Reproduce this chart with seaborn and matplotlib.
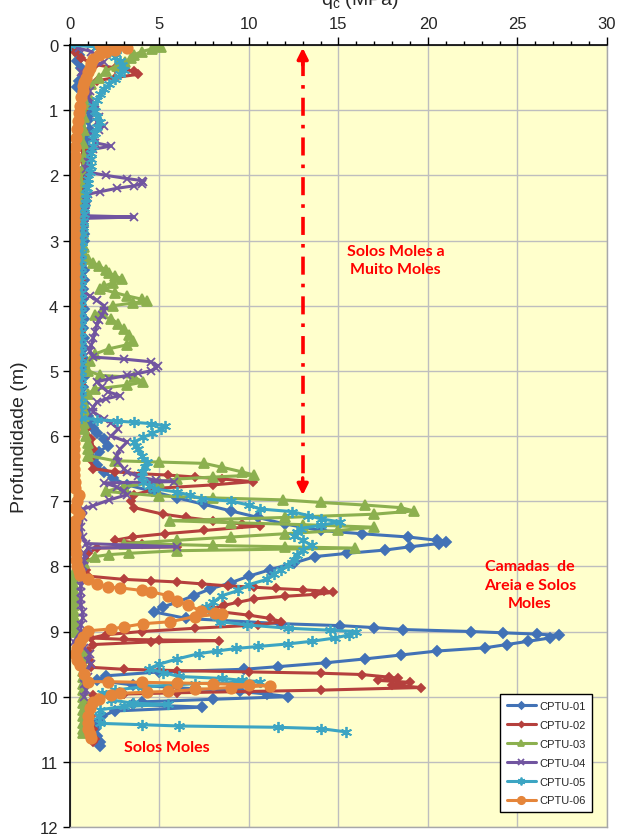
import matplotlib
matplotlib.use('Agg')
import matplotlib.pyplot as plt
from matplotlib.ticker import MultipleLocator
import pandas as pd
import seaborn as sns

# ---------------- data: (depth m, qc MPa) ----------------
series_names = ['CPTU-01', 'CPTU-02', 'CPTU-03', 'CPTU-04', 'CPTU-05', 'CPTU-06']

cptu01 = [(0.00, 0.1), (0.05, 0.3), (0.15, 0.5), (0.25, 0.4), (0.35, 0.6), (0.45, 0.8), (0.55, 0.5),
          (0.65, 0.4), (0.75, 0.7), (0.85, 1.0), (0.95, 1.3), (1.05, 1.2), (1.15, 1.0), (1.3, 1.1),
          (1.45, 0.9), (1.6, 1.0), (1.7, 0.9), (1.8, 0.9), (1.9, 0.8), (2.0, 0.8), (2.1, 0.9), (2.2, 0.8),
          (2.3, 0.8), (2.4, 0.9), (2.5, 0.8), (2.6, 0.8), (2.7, 0.7), (2.8, 0.7), (2.9, 0.8), (3.0, 0.8),
          (3.15, 0.7), (3.3, 0.7), (3.45, 0.8), (3.6, 0.8), (3.75, 0.7), (3.9, 0.7), (4.05, 0.8),
          (4.2, 0.8), (4.35, 0.7), (4.5, 0.8), (4.65, 0.8), (4.8, 0.7), (4.95, 0.8), (5.1, 0.8),
          (5.25, 0.7), (5.4, 0.8), (5.5, 0.8), (5.6, 0.9), (5.7, 1.0), (5.8, 1.1), (5.88, 1.3), (5.95, 1.5),
          (6.05, 1.9), (6.15, 2.1), (6.25, 1.6), (6.35, 1.3),
          (6.45, 1.5), (6.55, 1.9), (6.65, 2.4), (6.75, 3.2), (6.85, 4.6), (6.95, 6.0), (7.05, 7.5),
          (7.15, 9.0), (7.25, 10.5), (7.35, 12.0), (7.45, 14.0), (7.5, 16.3), (7.55, 18.9), (7.6, 20.5),
          (7.62, 21.0), (7.65, 20.6), (7.7, 19.0), (7.75, 17.6), (7.8, 15.5), (7.85, 13.7), (7.95, 12.5),
          (8.05, 11.2), (8.15, 10.0), (8.25, 9.0), (8.35, 7.8), (8.45, 6.9), (8.55, 6.0), (8.62, 5.2),
          (8.7, 4.7), (8.8, 6.5), (8.88, 11.8), (8.91, 15.1), (8.94, 17.0), (8.97, 18.6), (9.0, 22.4),
          (9.02, 24.2), (9.04, 26.1), (9.06, 27.3), (9.1, 26.8), (9.15, 25.6), (9.2, 24.4), (9.25, 23.2),
          (9.3, 20.5), (9.36, 18.5), (9.42, 16.5), (9.48, 14.3), (9.54, 11.6), (9.58, 9.7), (9.62, 5.0),
          (9.68, 2.0), (9.75, 1.5), (9.82, 3.5), (9.88, 7.0), (9.92, 9.5), (9.96, 11.0), (10.0, 12.2),
          (10.04, 8.0), (10.08, 4.0), (10.12, 3.5), (10.16, 7.4), (10.22, 2.5), (10.3, 1.8), (10.4, 1.5),
          (10.5, 1.4), (10.6, 1.5), (10.7, 1.7), (10.75, 1.7)]

cptu02 = [(0.0, 0.1), (0.1, 0.3), (0.2, 0.6), (0.3, 1.4), (0.35, 2.5), (0.4, 3.6), (0.45, 3.8), (0.5, 2.5),
          (0.55, 1.5), (0.65, 1.0), (0.8, 0.8), (1.0, 0.7), (1.3, 0.7), (1.6, 0.7), (2.0, 0.7), (2.4, 0.6),
          (2.8, 0.6), (3.2, 0.6), (3.6, 0.6), (4.0, 0.6), (4.4, 0.6), (4.8, 0.6), (5.2, 0.6), (5.6, 0.7),
          (5.9, 0.9), (6.05, 1.2), (6.2, 1.3), (6.35, 1.1), (6.5, 1.3), (6.55, 2.5), (6.58, 4.0), (6.6, 5.5),
          (6.63, 7.0), (6.66, 8.5), (6.7, 10.2), (6.75, 8.0), (6.8, 5.0), (6.9, 3.6), (7.0, 3.4), (7.1, 3.6),
          (7.2, 5.2), (7.25, 6.5), (7.3, 8.0), (7.35, 9.6), (7.38, 10.6), (7.45, 7.5), (7.5, 5.3),
          (7.55, 3.5), (7.6, 2.5), (7.65, 4.0), (7.7, 6.0), (7.72, 1.5), (7.8, 1.0), (7.9, 0.9),
          (8.05, 0.9), (8.15, 1.0), (8.2, 3.0), (8.22, 4.5), (8.24, 6.0), (8.27, 7.4), (8.3, 8.8),
          (8.32, 10.3), (8.34, 11.5), (8.36, 13.0), (8.38, 14.2), (8.4, 14.7), (8.43, 13.7), (8.46, 12.0),
          (8.5, 10.3), (8.55, 9.4), (8.6, 8.6), (8.65, 8.0), (8.7, 8.5), (8.75, 10.0), (8.8, 11.2),
          (8.85, 11.8), (8.9, 10.5), (8.95, 7.0), (9.0, 4.0), (9.05, 2.0), (9.1, 1.2), (9.12, 3.0),
          (9.13, 5.0), (9.14, 8.3), (9.16, 4.5), (9.2, 1.3), (9.3, 1.0), (9.45, 1.1), (9.55, 1.2),
          (9.58, 3.0), (9.6, 6.0), (9.62, 10.0), (9.64, 14.0), (9.66, 16.3), (9.7, 17.8), (9.72, 18.3),
          (9.75, 17.2), (9.78, 19.0), (9.82, 18.0), (9.86, 19.6), (9.9, 14.0), (9.92, 10.0), (9.94, 6.0),
          (9.96, 3.0), (9.98, 1.3), (10.1, 1.1), (10.3, 1.2), (10.5, 1.3), (10.65, 1.4), (10.7, 1.3)]

cptu03 = [(0.0, 4.8), (0.03, 5.1), (0.06, 4.6), (0.1, 4.0), (0.15, 3.6), (0.2, 3.4), (0.26, 3.1),
          (0.32, 2.6), (0.4, 2.0), (0.5, 1.6), (0.6, 1.2), (0.75, 1.0), (0.9, 0.9), (1.1, 0.8), (1.3, 0.8),
          (1.5, 0.7), (1.7, 0.8), (1.9, 0.7), (2.1, 0.6), (2.3, 0.6), (2.5, 0.6), (2.7, 0.7), (2.9, 0.7),
          (3.1, 0.8), (3.2, 0.8), (3.28, 1.0), (3.34, 1.3), (3.39, 1.6), (3.45, 2.0), (3.5, 2.2),
          (3.54, 2.5), (3.59, 2.9), (3.65, 2.4), (3.7, 1.9), (3.74, 1.7), (3.8, 2.5), (3.85, 3.2),
          (3.9, 4.0), (3.93, 4.3), (3.96, 3.5), (4.0, 2.4), (4.08, 1.8), (4.15, 1.4), (4.2, 2.3),
          (4.28, 2.7), (4.36, 3.0), (4.45, 3.3), (4.54, 3.5), (4.6, 3.2), (4.66, 2.2), (4.74, 1.4),
          (4.85, 1.1), (5.0, 1.0), (5.07, 1.7), (5.1, 3.6), (5.17, 4.1), (5.22, 3.2), (5.28, 1.4),
          (5.35, 1.0), (5.5, 0.8), (5.6, 0.8), (5.7, 0.8), (5.8, 0.8), (5.9, 0.8), (6.0, 0.9), (6.1, 1.0),
          (6.2, 1.0), (6.3, 1.0),
          (6.38, 2.5), (6.4, 5.0), (6.42, 7.5), (6.48, 8.5), (6.55, 9.6), (6.6, 10.3), (6.63, 8.0),
          (6.66, 6.0), (6.7, 5.0), (6.78, 3.0), (6.85, 2.0), (6.92, 5.0), (6.95, 8.0), (6.98, 11.9),
          (7.02, 14.0), (7.06, 16.5), (7.1, 18.5), (7.15, 19.2), (7.2, 17.0), (7.25, 12.0), (7.3, 5.6),
          (7.33, 9.0), (7.36, 13.0), (7.4, 17.0), (7.45, 15.0), (7.5, 12.0), (7.55, 9.0), (7.6, 6.0),
          (7.65, 3.0), (7.68, 8.0), (7.7, 12.0), (7.72, 15.9), (7.76, 6.0), (7.8, 3.3), (7.82, 2.2),
          (7.85, 1.4), (7.95, 0.8), (8.05, 0.3), (8.12, 0.2), (8.2, 0.2), (8.28, 0.2), (8.36, 0.2),
          (8.44, 0.2), (8.52, 0.2), (8.6, 0.2), (8.68, 0.2), (8.76, 0.2), (8.84, 0.2), (8.92, 0.2),
          (9.0, 0.3), (9.1, 0.5), (9.2, 0.6), (9.3, 0.7), (9.4, 0.7), (9.5, 0.7), (9.6, 0.7), (9.7, 0.7),
          (9.8, 0.7), (9.9, 0.7), (10.0, 0.7), (10.1, 0.7), (10.2, 0.7), (10.3, 0.7), (10.4, 0.7),
          (10.5, 0.7), (10.55, 0.7)]

cptu04 = [(0.0, 0.2), (0.05, 0.5), (0.1, 1.2), (0.18, 1.6), (0.26, 1.9), (0.33, 1.2), (0.42, 0.6),
          (0.5, 0.7), (0.6, 0.9), (0.7, 1.1), (0.8, 1.0), (0.9, 1.3), (1.0, 1.4), (1.1, 1.6), (1.18, 1.5),
          (1.24, 1.9), (1.3, 1.6), (1.4, 1.3), (1.5, 1.4), (1.55, 2.3), (1.6, 1.3), (1.7, 1.1), (1.8, 1.0),
          (1.9, 0.9), (1.95, 1.0), (2.0, 2.0), (2.05, 3.2), (2.08, 4.0), (2.1, 4.1), (2.13, 4.0),
          (2.16, 3.6), (2.2, 2.6), (2.25, 1.7), (2.29, 1.0), (2.4, 0.9), (2.55, 0.85), (2.62, 0.85),
          (2.64, 3.6), (2.66, 0.8), (2.8, 0.7), (3.0, 0.7), (3.3, 0.6), (3.6, 0.6), (3.79, 0.75),
          (3.85, 1.1), (3.92, 1.5), (4.0, 1.9), (4.08, 1.9), (4.15, 1.8), (4.22, 1.6), (4.3, 1.5),
          (4.4, 1.4), (4.5, 1.3), (4.6, 1.2), (4.69, 1.1), (4.79, 1.3), (4.82, 3.0), (4.86, 4.5),
          (4.92, 4.9), (4.96, 4.8), (5.0, 4.5), (5.04, 3.8), (5.07, 3.2), (5.12, 2.2), (5.17, 1.5),
          (5.25, 1.8), (5.32, 2.1), (5.38, 2.8), (5.43, 2.0), (5.48, 1.5), (5.56, 1.3), (5.63, 1.3),
          (5.74, 1.9), (5.8, 2.3), (5.89, 2.7), (6.0, 2.3), (6.09, 3.2), (6.2, 2.8), (6.3, 2.6),
          (6.4, 2.7), (6.5, 3.0), (6.55, 3.2), (6.62, 3.8), (6.68, 4.8), (6.7, 5.8), (6.72, 1.9),
          (6.78, 2.6), (6.85, 3.0), (6.9, 3.2), (6.98, 2.2), (7.07, 1.3), (7.12, 0.75), (7.25, 0.7),
          (7.4, 0.6), (7.55, 0.7), (7.65, 0.9), (7.7, 6.0), (7.72, 1.0), (7.8, 0.8), (7.9, 0.8),
          (8.0, 0.7), (8.1, 0.7), (8.2, 0.7), (8.3, 0.6), (8.4, 0.6), (8.5, 0.6), (8.6, 0.6), (8.7, 0.7),
          (8.8, 0.7), (8.9, 0.6), (9.0, 0.6), (9.16, 0.2), (9.25, 0.8), (9.35, 1.1), (9.45, 1.0),
          (9.5, 1.2), (9.6, 0.9), (9.7, 1.0), (9.8, 0.8), (9.9, 0.9), (10.0, 0.8)]

cptu05 = [(0.0, 0.0), (0.03, 1.5), (0.05, 2.8), (0.08, 1.8), (0.12, 2.2), (0.18, 2.5), (0.25, 2.8),
          (0.3, 2.9), (0.38, 3.0), (0.45, 2.8), (0.52, 2.5), (0.6, 2.2), (0.67, 1.9), (0.75, 1.7),
          (0.85, 1.5), (0.93, 1.3), (1.02, 1.4), (1.1, 1.5), (1.18, 1.7), (1.26, 1.5), (1.35, 1.4),
          (1.44, 1.3), (1.55, 1.3), (1.65, 1.2), (1.75, 1.2), (1.85, 1.2), (1.95, 1.1), (2.05, 1.0),
          (2.12, 1.0), (2.2, 0.95), (2.28, 0.9), (2.35, 0.9), (2.42, 0.85), (2.5, 0.8), (2.6, 0.8),
          (2.7, 0.75), (2.8, 0.7), (2.9, 0.7), (3.0, 0.65), (3.1, 0.65), (3.2, 0.6), (3.3, 0.6),
          (3.4, 0.6), (3.5, 0.6), (3.6, 0.6), (3.7, 0.6), (3.8, 0.6), (3.9, 0.6), (4.0, 0.6), (4.1, 0.6),
          (4.2, 0.6), (4.3, 0.6), (4.4, 0.6), (4.5, 0.6), (4.6, 0.6), (4.7, 0.6), (4.8, 0.6), (4.9, 0.6),
          (5.0, 0.6), (5.1, 0.6), (5.2, 0.6), (5.3, 0.6), (5.4, 0.6), (5.5, 0.6), (5.6, 0.6),
          (5.72, 0.6), (5.75, 1.5), (5.77, 2.6), (5.79, 3.6), (5.81, 4.5), (5.84, 5.3), (5.9, 5.1),
          (5.96, 4.6), (6.02, 4.1), (6.09, 3.6), (6.15, 3.7), (6.2, 3.8), (6.3, 4.0), (6.4, 4.3),
          (6.47, 4.2), (6.55, 4.0), (6.62, 4.0), (6.7, 4.1), (6.76, 4.4), (6.81, 4.7), (6.86, 6.0),
          (6.91, 6.7), (6.96, 7.3), (7.0, 9.0), (7.06, 10.0), (7.12, 10.6), (7.16, 12.4), (7.22, 13.3),
          (7.27, 14.0), (7.32, 15.1), (7.37, 14.0), (7.42, 12.9), (7.48, 12.7), (7.53, 12.5), (7.6, 13.0),
          (7.68, 13.5), (7.75, 13.0), (7.82, 12.7), (7.9, 12.5), (7.98, 12.2), (8.05, 11.8), (8.12, 11.4),
          (8.2, 11.0), (8.28, 10.0), (8.37, 9.4), (8.45, 8.5), (8.55, 8.0), (8.63, 7.6), (8.7, 7.9),
          (8.78, 8.2), (8.85, 8.4), (8.9, 9.9), (8.95, 12.2), (8.98, 14.5), (9.0, 16.0), (9.05, 15.6),
          (9.1, 14.8), (9.15, 13.5), (9.19, 12.2), (9.23, 10.5), (9.26, 9.3), (9.3, 8.2), (9.34, 7.2),
          (9.42, 6.0), (9.5, 5.0), (9.57, 4.4), (9.63, 5.2), (9.69, 6.1), (9.72, 8.5), (9.75, 9.6),
          (9.77, 10.6), (9.8, 7.0), (9.85, 4.0), (9.9, 2.5), (9.95, 1.8), (10.05, 2.3), (10.1, 3.5),
          (10.12, 5.5), (10.15, 3.0), (10.2, 1.7), (10.3, 1.6), (10.41, 1.7), (10.43, 4.0), (10.45, 6.1),
          (10.47, 11.6), (10.49, 14.0), (10.54, 15.4)]

cptu06 = [(0.0, 1.7), (0.02, 2.6), (0.04, 3.2), (0.07, 2.5), (0.1, 2.0), (0.15, 1.6), (0.21, 1.3),
          (0.28, 1.2), (0.35, 1.1), (0.42, 1.0), (0.5, 0.9), (0.57, 0.8), (0.63, 0.75), (0.7, 0.7),
          (0.8, 0.6), (0.93, 0.55), (1.05, 0.5), (1.17, 0.45), (1.29, 0.4), (1.42, 0.35), (1.56, 0.3),
          (1.7, 0.3), (1.8, 0.25), (1.9, 0.25), (2.0, 0.2), (2.1, 0.2), (2.2, 0.2), (2.3, 0.2), (2.4, 0.2),
          (2.5, 0.2), (2.6, 0.2), (2.7, 0.2), (2.8, 0.2), (2.9, 0.2), (3.0, 0.2), (3.1, 0.2), (3.2, 0.2),
          (3.3, 0.2), (3.4, 0.2), (3.5, 0.2), (3.6, 0.2), (3.7, 0.2), (3.8, 0.2), (3.9, 0.2), (4.0, 0.2),
          (4.1, 0.2), (4.2, 0.2), (4.3, 0.2), (4.4, 0.2), (4.5, 0.2), (4.6, 0.2), (4.7, 0.2), (4.8, 0.2),
          (4.9, 0.2), (5.0, 0.2), (5.1, 0.2), (5.2, 0.2), (5.3, 0.2), (5.4, 0.2), (5.5, 0.2), (5.6, 0.2),
          (5.7, 0.2), (5.8, 0.2), (5.9, 0.2), (6.0, 0.2), (6.1, 0.2), (6.2, 0.2), (6.3, 0.2), (6.4, 0.2),
          (6.5, 0.25), (6.6, 0.25), (6.7, 0.3), (6.8, 0.3), (6.9, 0.5), (7.0, 0.4), (7.1, 0.3), (7.2, 0.5),
          (7.3, 0.3), (7.4, 0.2), (7.5, 0.3), (7.6, 0.3), (7.7, 0.3), (7.8, 0.35), (7.9, 0.35),
          (7.99, 0.4), (8.07, 0.5), (8.14, 0.55),
          (8.2, 1.0), (8.27, 1.5), (8.32, 2.1), (8.33, 2.8), (8.37, 4.0), (8.39, 4.5), (8.45, 5.5),
          (8.53, 6.0), (8.6, 6.6), (8.68, 7.3), (8.71, 8.1), (8.73, 8.5), (8.77, 7.0), (8.85, 5.6),
          (8.88, 4.1), (8.93, 3.0), (8.96, 2.3), (8.99, 1.0), (9.08, 0.7), (9.16, 0.55), (9.25, 0.4),
          (9.34, 0.3), (9.43, 0.4), (9.52, 0.55), (9.65, 0.8), (9.77, 1.0), (9.77, 2.1), (9.78, 4.0),
          (9.79, 6.0), (9.8, 8.0), (9.82, 10.0), (9.83, 11.2), (9.86, 9.0), (9.89, 7.0), (9.92, 5.5),
          (9.93, 4.3), (9.95, 2.8), (9.98, 2.3), (10.03, 1.6), (10.08, 1.3), (10.18, 1.1), (10.29, 1.0),
          (10.4, 1.0), (10.49, 1.0), (10.58, 1.1), (10.64, 1.2)]

all_series = [cptu01, cptu02, cptu03, cptu04, cptu05, cptu06]

x_ticks = [0, 5, 10, 15, 20, 25, 30]
y_ticks = list(range(0, 13))

# ---------------- styling ----------------
colors = ['#4272B6', '#B5403D', '#8CB04F', '#7155A0', '#3CA5C3', '#E5853A']
markers = ['D', 'D', '^', 'x', (6, 2, 0), 'o']
msizes = [5, 4, 7, 6, 8, 7.5]

sns.set_theme(style='white')
plt.rcParams['font.family'] = ['Liberation Sans', 'DejaVu Sans']

fig = plt.figure(figsize=(6.21, 8.37), dpi=100)
ax = fig.add_axes([70 / 621, 9 / 837, 537 / 621, 782 / 837])
ax.set_facecolor('#FFFFCC')

for name, pts, col, mk, ms in zip(series_names, all_series, colors, markers, msizes):
    df = pd.DataFrame(pts, columns=['depth', 'qc'])
    sns.lineplot(data=df, x='qc', y='depth', sort=False, estimator=None, ax=ax,
                 color=col, marker=mk, markersize=ms, markeredgecolor=col,
                 markerfacecolor=col, markeredgewidth=1.3, linewidth=2.2, label=name)

ax.set_xlim(0, 30)
ax.set_ylim(12, 0)
ax.set_xticks(x_ticks)
ax.set_yticks(y_ticks)
ax.xaxis.set_minor_locator(MultipleLocator(1))
ax.xaxis.tick_top()
ax.tick_params(axis='x', which='major', direction='out', length=6, width=1,
               labelsize=12, pad=4, top=True, bottom=False, color='black')
ax.tick_params(axis='x', which='minor', direction='out', length=3, width=1,
               top=True, bottom=False, color='black')
ax.tick_params(axis='y', which='major', direction='out', length=5, width=1,
               labelsize=12, left=True, color='black')
ax.set_xlabel('')
ax.set_ylabel('Profundidade (m)', fontsize=14, labelpad=8)

ax.grid(True, which='major', color='#BEBEBE', linewidth=1)
ax.set_axisbelow(True)
for side in ['left', 'top']:
    ax.spines[side].set_color('black')
    ax.spines[side].set_linewidth(1.2)
for side in ['right', 'bottom']:
    ax.spines[side].set_color('#A8A8A8')
    ax.spines[side].set_linewidth(1)

# red double arrow
ax.plot([13, 13], [0.2, 6.8], color='red', lw=2.6, ls=(0, (5, 2.5, 1, 2.5)), zorder=5)
ax.annotate('', xy=(13, 0.0), xytext=(13, 0.35),
            arrowprops=dict(arrowstyle='-|>', color='red', lw=2.5, mutation_scale=16), zorder=5)
ax.annotate('', xy=(13, 6.95), xytext=(13, 6.6),
            arrowprops=dict(arrowstyle='-|>', color='red', lw=2.5, mutation_scale=16), zorder=5)

txt_kw = dict(color='red', fontweight='bold', ha='center', va='center', fontsize=11.5,
              family=['Lato', 'DejaVu Sans'], linespacing=1.4, zorder=6)
ax.text(18.2, 3.3, 'Solos Moles a\nMuito Moles', **txt_kw)
ax.text(25.7, 8.28, 'Camadas  de\nAreia e Solos\nMoles', **txt_kw)
ax.text(5.4, 10.77, 'Solos Moles', **txt_kw)

leg = ax.legend(loc='lower right', bbox_to_anchor=(0.983, 0.012), frameon=True, fancybox=False,
                edgecolor='black', framealpha=1, fontsize=8, handlelength=2.6,
                labelspacing=0.8, borderpad=0.6, handletextpad=0.3, markerscale=0.7)
leg.get_frame().set_linewidth(1)

fig.text(360 / 621, 1 - 11 / 837, r'q$_\mathregular{c}$ (MPa)', ha='center', va='bottom', fontsize=14)

fig.savefig('out.png', dpi=100)
